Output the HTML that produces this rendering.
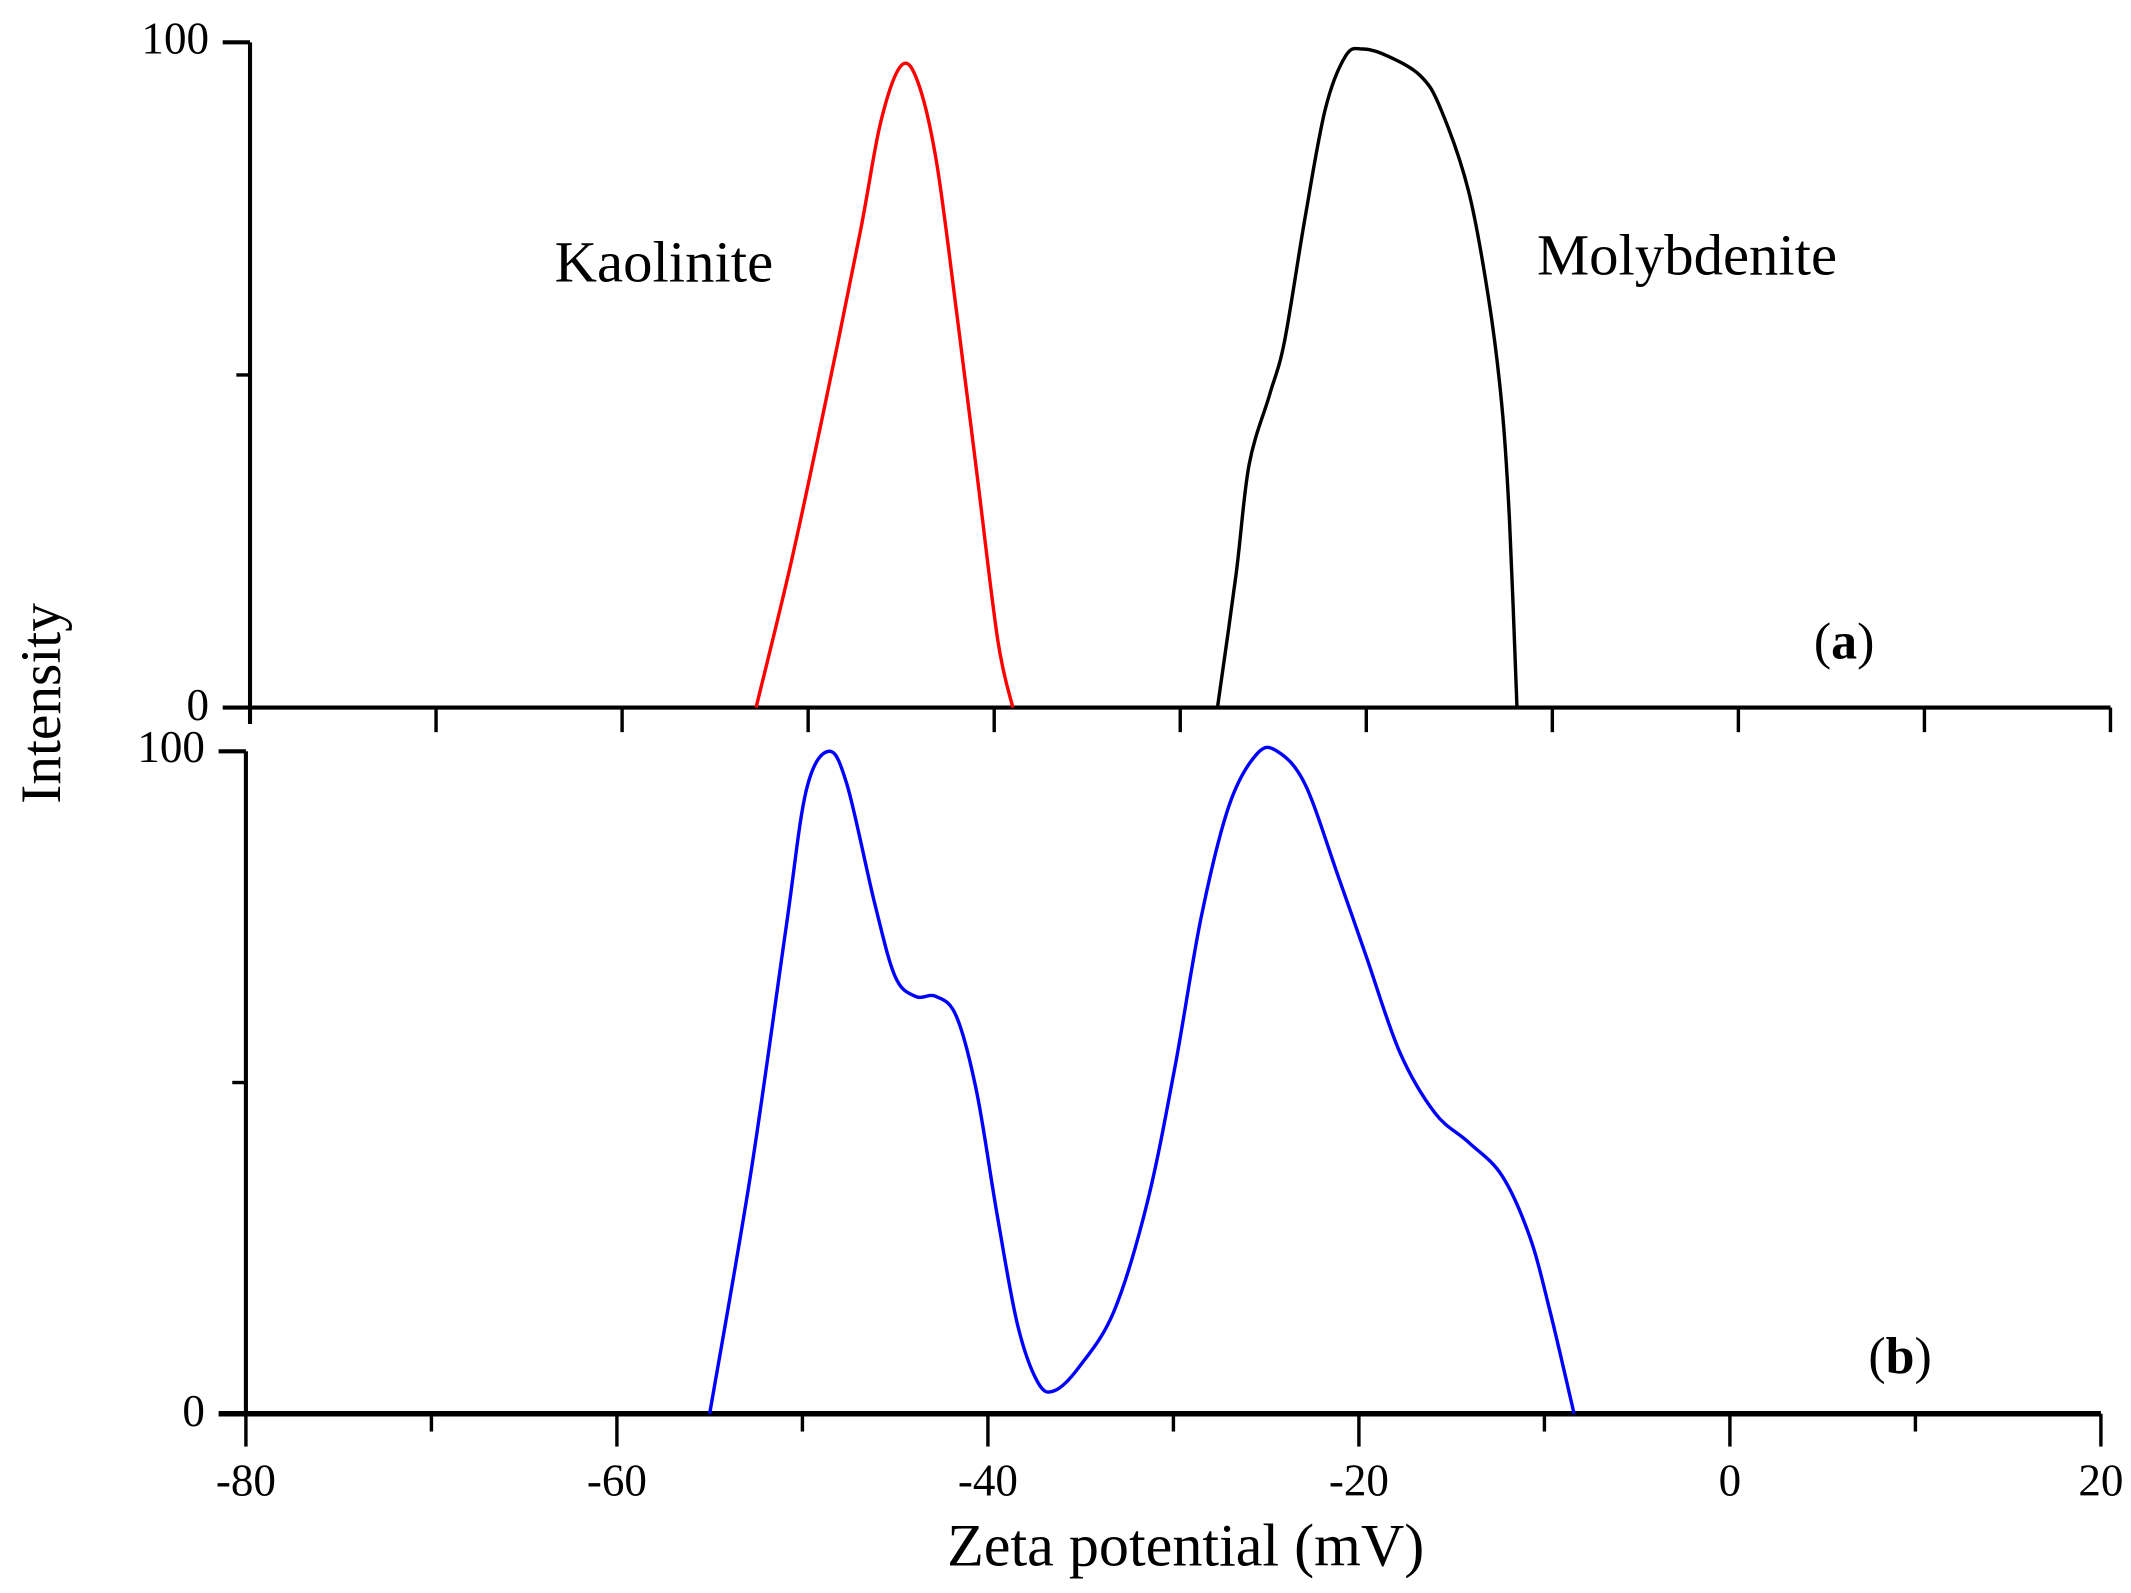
<!DOCTYPE html>
<html><head><meta charset="utf-8"><style>
html,body{margin:0;padding:0;background:#fff;}
svg{display:block;}
text{font-family:"Liberation Serif",serif;fill:#000;}
</style></head><body>
<svg id="chart" width="2131" height="1593" viewBox="0 0 1560 1166.2" xmlns="http://www.w3.org/2000/svg">
<g id="axes"></g>
<g id="series"></g>
<text x="0" y="0" font-size="42" text-anchor="middle" transform="translate(44,515) rotate(-90)">Intensity</text>
<text x="868" y="1146" font-size="44" text-anchor="middle">Zeta potential (mV)</text>
<text x="486" y="206" font-size="43" text-anchor="middle">Kaolinite</text>
<text x="1235" y="201" font-size="43" text-anchor="middle">Molybdenite</text>
<text x="1350" y="482" font-size="38" text-anchor="middle">(<tspan font-weight="bold">a</tspan>)</text>
<text x="1391" y="1005" font-size="38" text-anchor="middle">(<tspan font-weight="bold">b</tspan>)</text>
</svg>
<script>
const xTicks = [-80, -60, -40, -20, 0, 20];
const xMinor = [-70, -50, -30, -10, 10];
const yTickLabels = ["0", "100"];
const kaoX = [-52.8, -50.9, -49.0, -47.2, -46.1, -45.0, -44.1, -43.1, -42.0, -40.9, -39.8, -39.0];
const kaoY = [0, 22, 46.8, 71.5, 88, 96.5, 94, 82, 59, 34.5, 10, 0];
const molyX = [-28.0, -27.0, -26.3, -25.2, -24.4, -23.3, -22.2, -21.1, -20.2, -18.9, -17.1, -16.0, -14.5, -13.4, -12.7, -12.3, -11.9];
const molyY = [0, 20, 36.5, 47, 55, 73.5, 90, 98, 99, 98, 95, 90, 77.6, 61, 45, 28, 0];
const mixX = [-55.0, -52.8, -50.9, -49.8, -48.6, -47.6, -46.1, -45.0, -43.9, -42.8, -41.7, -40.6, -39.5, -38.4, -37.3, -36.4, -35.1, -33.2, -31.4, -29.9, -28.5, -27.0, -25.5, -24.4, -22.9, -21.1, -19.6, -17.8, -15.9, -14.1, -12.3, -10.8, -9.7, -8.4];
const mixY = [0, 36, 73, 94, 100, 95, 77, 66, 63, 63, 60, 48.5, 30, 13.4, 4.7, 3.5, 7, 15.5, 32, 52.6, 75, 91.8, 99.6, 100, 95, 81, 69, 54.6, 45.4, 41, 36, 26.8, 15.5, 0];

const NS = "http://www.w3.org/2000/svg";
const axes = document.getElementById('axes');
const series = document.getElementById('series');
const panels = [
  {x0:183, x1:1545, y0:518, y1:31, name:'a'},
  {x0:180, x1:1538, y0:1035, y1:550, name:'b'}
];
function sx(p, v){ return p.x0 + (v + 80) / 100 * (p.x1 - p.x0); }
function sy(p, v){ return p.y0 - v / 100 * (p.y0 - p.y1); }
function line(x1,y1,x2,y2,w,name){
  const l = document.createElementNS(NS,'line');
  l.setAttribute('x1',x1);l.setAttribute('y1',y1);l.setAttribute('x2',x2);l.setAttribute('y2',y2);
  l.setAttribute('stroke','#000');l.setAttribute('stroke-width',w);
  
  
  axes.appendChild(l);
}
function txt(x,y,s,anchor,size,name){
  const t = document.createElementNS(NS,'text');
  t.setAttribute('x',x);t.setAttribute('y',y);t.setAttribute('text-anchor',anchor);t.setAttribute('font-size',size);
  t.textContent = s;
  
  
  axes.appendChild(t);
}
panels.forEach((p, i) => {
  line(p.x0, p.y1, p.x0, p.y0 + (i === 0 ? 12 : 0), 3, 'y-axis-' + p.name);
  line(p.x0 - 20, p.y1, p.x0, p.y1, 3, 'y-tick-top-' + p.name);
  line(p.x0 - 10, (p.y0 + p.y1) / 2, p.x0, (p.y0 + p.y1) / 2, 2.5, 'y-tick-mid-' + p.name);
  line(p.x0 - 20, p.y0, p.x1, p.y0, i === 0 ? 3 : 4, 'x-axis-' + p.name);
  txt(p.x0 - 30, p.y1 + 8, yTickLabels[1], 'end', 33, 'y-tick-label-100-' + p.name);
  txt(p.x0 - 30, p.y0 + 9, yTickLabels[0], 'end', 33, 'y-tick-label-0-' + p.name);
  xTicks.forEach(v => { if (v !== -80) line(sx(p, v), p.y0, sx(p, v), p.y0 + (i === 0 ? 18 : 24), 2.5, 'x-tick'); });
  if (i === 1) line(p.x0, p.y0, p.x0, p.y0 + 24, 2.5, 'x-tick');
  xMinor.forEach(v => line(sx(p, v), p.y0, sx(p, v), p.y0 + (i === 0 ? 18 : 13), 2.5, 'x-minor-tick'));
  if (i === 1) xTicks.forEach(v => txt(sx(p, v), p.y0 + 60, String(v), 'middle', 33, 'x-tick-label'));
});
function curve(p, xs, ys, color, name){
  const pts = xs.map((x, k) => [sx(p, x), sy(p, ys[k])]);
  let d = 'M' + pts[0][0] + ',' + pts[0][1];
  for (let k = 0; k < pts.length - 1; k++) {
    const p0 = pts[Math.max(k - 1, 0)], p1 = pts[k], p2 = pts[k + 1], p3 = pts[Math.min(k + 2, pts.length - 1)];
    const c1 = [p1[0] + (p2[0] - p0[0]) / 6, p1[1] + (p2[1] - p0[1]) / 6];
    const c2 = [p2[0] - (p3[0] - p1[0]) / 6, p2[1] - (p3[1] - p1[1]) / 6];
    d += ' C' + c1 + ' ' + c2 + ' ' + p2;
  }
  const path = document.createElementNS(NS, 'path');
  path.setAttribute('d', d);
  path.setAttribute('fill', 'none');
  path.setAttribute('stroke', color);
  path.setAttribute('stroke-width', 2.5);
  
  
  series.appendChild(path);
}
curve(panels[0], kaoX, kaoY, '#ff0000', 'kaolinite-curve');
curve(panels[0], molyX, molyY, '#000000', 'molybdenite-curve');
curve(panels[1], mixX, mixY, '#0000ff', 'mixture-curve');
</script>
</body></html>
